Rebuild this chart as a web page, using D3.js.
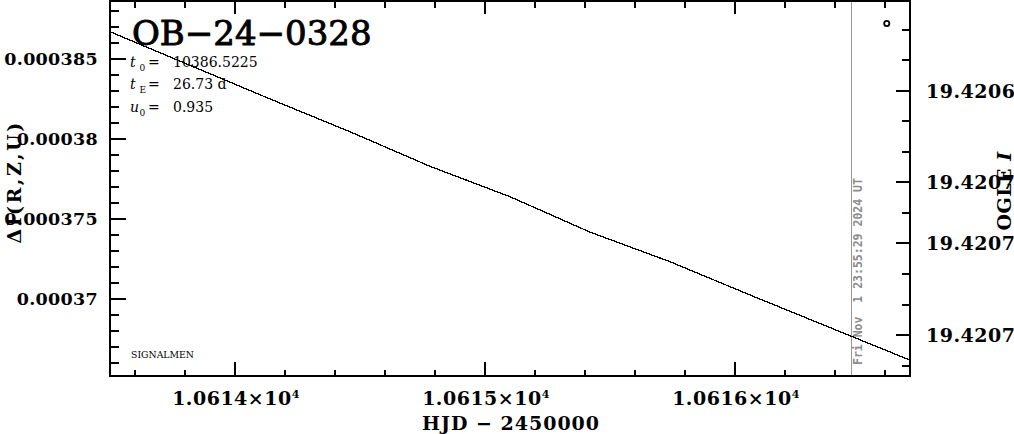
<!DOCTYPE html>
<html>
<head>
<meta charset="utf-8">
<script src="https://cdn.jsdelivr.net/npm/d3@7"></script>
<style>
  html, body { margin: 0; padding: 0; background: #fff; }
  svg { display: block; }
</style>
</head>
<body>
<svg id="chart" width="1014" height="434"></svg>
<script>
// ---- data ----
const modelHjd  = [10613.5, 10614.14, 10614.46, 10614.78, 10615.10, 10615.42, 10615.74, 10616.06, 10616.464, 10616.7];
const modelFlux = [0.00038670, 0.00038250, 0.00038045, 0.00037829, 0.00037639, 0.00037418, 0.00037233, 0.00037025, 0.00036768, 0.00036618];
const ogleHjd = [10616.607];
const ogleMag = [19.420556];
const xMajorTicks = [10614, 10615, 10616];
const xTickLabels = ["1.0614", "1.0615", "1.0616"];
const leftMajorTicks = [0.00037, 0.000375, 0.00038, 0.000385];
const leftTickLabels = ["0.00037", "0.000375", "0.00038", "0.000385"];
const rightTicks = [19.42056, 19.42058, 19.42060, 19.42062, 19.42064, 19.42066, 19.42068, 19.42070, 19.42072, 19.42074, 19.42076, 19.42078];
const rightMajorTicks = [19.42060, 19.42066, 19.42070, 19.42076];
const rightTickLabels = ["19.4206", "19.4207", "19.4207", "19.4207"];
const nowHjd = 10616.465;
const nowLabel = "Fri Nov  1 23:55:29 2024 UT";
const title = "OB\u221224\u22120328";
const params = [
  {sym: "t", sub: "0", val: "10386.5225"},
  {sym: "t", sub: "E", val: "26.73 d"},
  {sym: "u", sub: "0", val: "0.935"}
];

// ---- layout ----
const L = 110, R = 910, T = 1, B = 376;
const svg = d3.select("#chart");
const x = d3.scaleLinear().domain([10613.5, 10616.7]).range([L, R]);
const y = d3.scaleLinear().domain([0.000365188, 0.00038862]).range([B, T]);
const yR = d3.scaleLinear().domain([19.42060, 19.42062]).range([90.7, 121.25]);

const tickFont = "'DejaVu Serif', serif";
const FS = 19, LS = 0.5;

svg.append("defs").append("clipPath").attr("id", "clip")
  .append("rect").attr("x", L).attr("y", T).attr("width", R - L).attr("height", B - T);

// vertical "now" line
svg.append("line")
  .attr("x1", Math.round(x(nowHjd)) + 0.5).attr("x2", Math.round(x(nowHjd)) + 0.5)
  .attr("y1", T).attr("y2", B)
  .attr("stroke", "#999").attr("stroke-width", 1);
svg.append("text")
  .attr("transform", `translate(${x(nowHjd) + 11},${B - 11}) rotate(-90)`)
  .attr("font-family", "'DejaVu Sans Mono', monospace")
  .attr("font-weight", "bold")
  .attr("font-size", 11.5)
  .attr("fill", "#8c8c8c")
  .attr("xml:space", "preserve")
  .style("white-space", "pre")
  .text(nowLabel);

// model curve
const line = d3.line().x((d, i) => x(modelHjd[i])).y(d => y(d));
svg.append("path")
  .datum(modelFlux)
  .attr("clip-path", "url(#clip)")
  .attr("d", line)
  .attr("fill", "none")
  .attr("stroke", "#000")
  .attr("stroke-width", 1.3)
  .attr("shape-rendering", "crispEdges");

// OGLE point
svg.selectAll("circle.ogle").data(ogleHjd).join("circle")
  .attr("class", "ogle")
  .attr("cx", d => x(d)).attr("cy", (d, i) => yR(ogleMag[i]))
  .attr("r", 2.6).attr("fill", "#fff").attr("stroke", "#000").attr("stroke-width", 1.8);

// ---- axes ----
const axG = svg.append("g");
function tick(x1, y1, x2, y2) {
  axG.append("line").attr("x1", x1).attr("y1", y1).attr("x2", x2).attr("y2", y2)
    .attr("stroke", "#000").attr("stroke-width", 2);
}
const xMinor = d3.range(10613.6, 10616.65, 0.2);
xMinor.forEach(v => {
  const px = Math.round(x(v));
  const major = xMajorTicks.some(m => Math.abs(m - v) < 1e-6);
  tick(px, B, px, B - (major ? 14 : 6));
  tick(px, T, px, T + (major ? 13 : 7));
});
const yMinor = d3.range(0.000366, 0.0003886, 0.000001);
yMinor.forEach(v => {
  const py = Math.round(y(v));
  const major = leftMajorTicks.some(m => Math.abs(m - v) < 1e-10);
  tick(L, py, L + (major ? 16 : 9), py);
});
rightTicks.forEach(v => {
  const py = Math.round(yR(v));
  const major = rightMajorTicks.some(m => Math.abs(m - v) < 1e-9);
  tick(R, py, R - (major ? 14 : 8), py);
});
axG.append("rect").attr("x", L).attr("y", T).attr("width", R - L).attr("height", B - T)
  .attr("fill", "none").attr("stroke", "#000").attr("stroke-width", 2);

function label(sel) {
  return sel.attr("font-family", tickFont).attr("font-weight", "bold")
    .attr("font-size", FS).attr("letter-spacing", LS);
}
// x tick labels
xMajorTicks.forEach((v, i) => {
  const t = label(svg.append("text"))
    .attr("x", x(v) + 1).attr("y", 405)
    .attr("text-anchor", "middle");
  t.append("tspan").text(xTickLabels[i] + "\u00d710");
  t.append("tspan").attr("dy", -7).attr("font-size", 11).text("4");
});
// left tick labels
leftMajorTicks.forEach((v, i) => {
  label(svg.append("text"))
    .attr("x", 98).attr("y", y(v) + 6.5)
    .attr("text-anchor", "end")
    .attr("font-size", 17.5).attr("letter-spacing", 0.3)
    .text(leftTickLabels[i]);
});
// right tick labels
rightMajorTicks.forEach((v, i) => {
  label(svg.append("text"))
    .attr("x", 926).attr("y", yR(v) + 7)
    .attr("text-anchor", "start")
    .text(rightTickLabels[i]);
});

// axis titles
label(svg.append("text"))
  .attr("x", 511).attr("y", 430)
  .attr("text-anchor", "middle")
  .attr("letter-spacing", 1)
  .attr("xml:space", "preserve").style("white-space", "pre")
  .text("HJD \u2212 2450000");
label(svg.append("text"))
  .attr("transform", "translate(21,182) rotate(-90)")
  .attr("text-anchor", "middle")
  .attr("letter-spacing", 2.5)
  .text("\u0394I(R,Z,U)");
const og = label(svg.append("text"))
  .attr("transform", "translate(1011,191) rotate(-90)")
  .attr("text-anchor", "middle");
og.append("tspan").text("OGLE ");
og.append("tspan").attr("font-style", "italic").text("I");

// title
svg.append("text")
  .attr("x", 132).attr("y", 45)
  .attr("font-family", tickFont).attr("font-size", 34)
  .attr("stroke", "#000").attr("stroke-width", 0.9)
  .text(title);

// parameters
params.forEach((p, i) => {
  const by = 66.5 + i * 22.8;
  const g = svg.append("g").attr("font-family", tickFont).attr("fill", "#000");
  g.append("text").attr("x", 130).attr("y", by).attr("font-size", 14).attr("font-style", "italic").text(p.sym);
  g.append("text").attr("x", 139.5).attr("y", by + 4).attr("font-size", 9).text(p.sub);
  g.append("text").attr("x", 148).attr("y", by).attr("font-size", 14).text("=");
  g.append("text").attr("x", 173).attr("y", by).attr("font-size", 14).text(p.val);
});

// signature
svg.append("text")
  .attr("x", 131).attr("y", 358)
  .attr("font-family", tickFont).attr("font-size", 9)
  .attr("textLength", 63).attr("lengthAdjust", "spacingAndGlyphs")
  .text("SIGNALMEN");
</script>
</body>
</html>
